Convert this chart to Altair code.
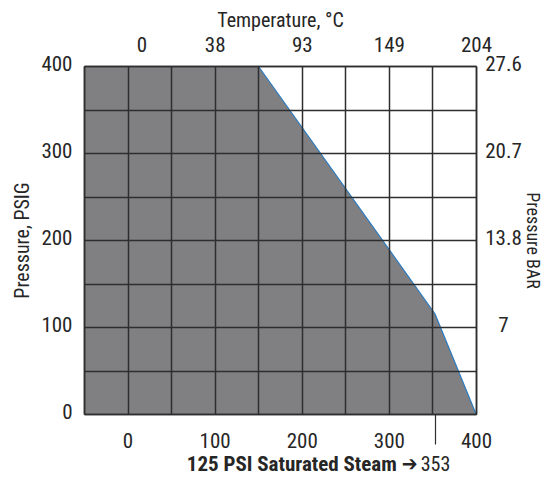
import altair as alt
import pandas as pd

# ---- data ----
temp_f = [-50, 150, 353, 400]          # boundary of the shaded region (deg F)
pressure_psig = [400, 400, 115, 0]     # pressure at those temperatures (PSIG)

x_grid = [-50, 0, 50, 100, 150, 200, 250, 300, 350, 400]
y_grid = [0, 50, 100, 150, 200, 250, 300, 350, 400]

top_positions_f = [16, 100, 200, 300, 400]
top_labels_c = ["0", "38", "93", "149", "204"]

right_positions_psig = [100, 200, 300, 400]
right_labels_bar = ["7", "13.8", "20.7", "27.6"]

steam_temp_f = [353]
steam_title = "125 PSI Saturated Steam \u2794"

FONT = "Liberation Sans Narrow, Roboto Condensed, DejaVu Sans Condensed, sans-serif"
GRAY = "#808083"
BLUE = "#2b7bc0"
DARK = "#2e2e2e"
TXT = "#262626"

area_df = pd.DataFrame({"t": temp_f, "p": pressure_psig})
line_df = pd.DataFrame({"t": temp_f[1:], "p": pressure_psig[1:]})
steam_df = pd.DataFrame({"t": steam_temp_f})


def mapping_expr(keys, labels):
    expr = "''"
    for k, lab in reversed(list(zip(keys, labels))):
        expr = f"datum.value == {k} ? '{lab}' : ({expr})"
    return expr


xs = alt.Scale(domain=[-50, 400], nice=False, zero=False)
ys = alt.Scale(domain=[0, 400], nice=False)

bottom_axis = alt.Axis(
    orient="bottom", values=x_grid, labelExpr="datum.value % 100 == 0 ? datum.label : ''",
    ticks=False, tickSize=0, labelPadding=16, labelFlush=False, labelOverlap=False,
    grid=True, gridColor=DARK, gridWidth=1.5, domain=True, domainColor=DARK, domainWidth=1.5,
    title=None, zindex=1,
)
left_axis = alt.Axis(
    orient="left", values=y_grid, labelExpr="datum.value % 100 == 0 ? datum.label : ''",
    ticks=False, tickSize=0, labelPadding=12, labelOffset=-2, labelFlush=False, labelOverlap=False,
    grid=True, gridColor=DARK, gridWidth=1.5, domain=True, domainColor=DARK, domainWidth=1.5,
    title="Pressure, PSIG", titleX=-62, titleY=174, titleAngle=270,
    titleAlign="center", titleBaseline="middle", zindex=1,
)
top_axis = alt.Axis(
    orient="top", values=top_positions_f, labelExpr=mapping_expr(top_positions_f, top_labels_c),
    ticks=False, tickSize=0, labelPadding=11, labelFlush=False, labelOverlap=False,
    grid=False, domain=True, domainColor=DARK, domainWidth=1.5,
    title="Temperature, \u00b0C", titleX=196, titleY=-46, titleAngle=0,
    titleAlign="center", titleBaseline="middle", zindex=1,
)
right_axis = alt.Axis(
    orient="right", values=right_positions_psig,
    labelExpr=mapping_expr(right_positions_psig, right_labels_bar),
    ticks=False, tickSize=0, labelPadding=27, labelAlign="center", labelOffset=-2,
    labelFlush=False, labelOverlap=False,
    grid=False, domain=True, domainColor=DARK, domainWidth=1.5,
    title="Pressure BAR", titleFontSize=18, titleX=55, titleY=174, titleAngle=90,
    titleAlign="center", titleBaseline="middle", zindex=1,
)
steam_axis = alt.Axis(
    orient="bottom", values=steam_temp_f, ticks=True, tickSize=30, tickColor=DARK,
    tickWidth=1.2, labelPadding=10, labelFontSize=20, labelFlush=False, grid=False, domain=False,
    title=steam_title, titleFontWeight="bold", titleFontSize=21, titleX=333, titleY=50,
    titleAlign="right", titleBaseline="middle", titleAngle=0, zindex=1,
)

area = alt.Chart(area_df).mark_area(color=GRAY, opacity=1).encode(
    x=alt.X("t:Q", scale=xs, axis=bottom_axis),
    y=alt.Y("p:Q", scale=ys, axis=left_axis),
)
line = alt.Chart(line_df).mark_line(color=BLUE, strokeWidth=1.2).encode(
    x=alt.X("t:Q", scale=xs, axis=top_axis),
    y=alt.Y("p:Q", scale=ys, axis=right_axis),
)
steam = alt.Chart(steam_df).mark_rule(opacity=0).encode(
    x=alt.X("t:Q", scale=xs, axis=steam_axis),
)

chart = (
    alt.layer(area, line, steam)
    .resolve_axis(x="independent", y="independent")
    .properties(
        width=392, height=348,
        autosize=alt.AutoSizeParams(type="none"),
        padding={"left": 76, "top": 58, "right": 66, "bottom": 61},
    )
    .configure(font=FONT)
    .configure_view(stroke=None)
    .configure_axis(
        labelFont=FONT, titleFont=FONT, labelFontSize=21, titleFontSize=20,
        labelColor=TXT, titleColor=TXT, titleFontWeight="normal",
    )
)

chart.save("out.html", embed_options={"renderer": "svg", "actions": False})
